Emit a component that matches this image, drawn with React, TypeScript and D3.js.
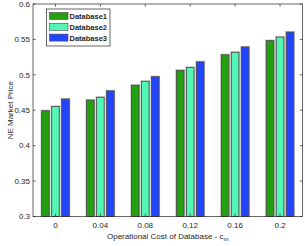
import React from "react";
import * as d3 from "d3";

const categories = ["0", "0.04", "0.08", "0.12", "0.16", "0.2"];
const seriesNames = ["Database1", "Database2", "Database3"];
const database1 = [0.45, 0.465, 0.486, 0.507, 0.529, 0.549];
const database2 = [0.456, 0.469, 0.4915, 0.511, 0.5325, 0.554];
const database3 = [0.4665, 0.478, 0.498, 0.519, 0.54, 0.561];
const yTicks = [0.3, 0.35, 0.4, 0.45, 0.5, 0.55, 0.6];
const colors = ["#22a010", "#52f7b6", "#2246ff"];

const W = 305, H = 246;
const m = { left: 33, right: 302.5, top: 4, bottom: 216.5 };
const font = "'Liberation Sans', Arial, sans-serif";

export default function App() {
  const series = [database1, database2, database3];
  const x = d3.scaleLinear().domain([-0.5, categories.length - 0.5]).range([m.left, m.right]);
  const y = d3.scaleLinear().domain([0.3, 0.6]).range([m.bottom, m.top]);
  const offset = 0.223;
  const bw = 0.19;
  const bwPx = x(bw) - x(0);
  return (
    <svg width={W} height={H} style={{ position: "absolute", left: 0, top: 0 }} fontFamily={font}>
      <rect width={W} height={H} fill="#fff" />
      {series.map((vals, s) =>
        vals.map((v, i) => {
          const cx = x(i + (s - 1) * offset);
          return (
            <g key={`${s}-${i}`}>
              <rect x={cx - bwPx / 2 - 0.5} y={y(v) - 0.5} width={bwPx + 1} height={y(0.3) - y(v) + 0.5} fill="#b4b4b4" />
              <rect x={cx - bwPx / 2 + 0.5} y={y(v) + 0.5} width={bwPx - 1} height={y(0.3) - y(v) - 0.5} fill={colors[s]} stroke="#4a4a4a" strokeWidth={0.8} />
            </g>
          );
        })
      )}
      {/* axes box */}
      <rect x={m.left} y={m.top} width={m.right - m.left} height={m.bottom - m.top} fill="none" stroke="#262626" strokeWidth={0.7} />
      {yTicks.map((t) => (
        <g key={t}>
          <line x1={m.left} x2={m.left + 2.7} y1={y(t)} y2={y(t)} stroke="#262626" strokeWidth={0.7} />
          <line x1={m.right} x2={m.right - 2.7} y1={y(t)} y2={y(t)} stroke="#262626" strokeWidth={0.7} />
          <text x={m.left - 3} y={y(t) + 2.8} fontSize={8} textAnchor="end" fill="#262626">{String(t)}</text>
        </g>
      ))}
      {categories.map((c, i) => (
        <g key={c}>
          <line x1={x(i)} x2={x(i)} y1={m.bottom} y2={m.bottom - 2.7} stroke="#262626" strokeWidth={0.7} />
          <line x1={x(i)} x2={x(i)} y1={m.top} y2={m.top + 2.7} stroke="#262626" strokeWidth={0.7} />
          <text x={x(i)} y={m.bottom + 11} fontSize={8} textAnchor="middle" fill="#262626">{c}</text>
        </g>
      ))}
      <text x={0} y={0} transform={`translate(12.5,${(m.top + m.bottom) / 2}) rotate(-90)`} fontSize={8} textAnchor="middle" fill="#262626">NE Market Price</text>
      <text x={(m.left + m.right) / 2} y={238.5} fontSize={8} textAnchor="middle" fill="#262626">
        Operational Cost of Database - c<tspan fontSize={6} dy={2.5}>m</tspan>
      </text>
      {/* legend */}
      <rect x={46.5} y={9} width={63.5} height={37} fill="#fff" stroke="#262626" strokeWidth={0.7} />
      {seriesNames.map((n, s) => (
        <g key={n}>
          <rect x={49.5} y={12.5 + s * 10.8} width={18.5} height={7} fill={colors[s]} stroke="#4a4a4a" strokeWidth={0.6} />
          <text x={69.5} y={19 + s * 10.8} fontSize={7.5} fontWeight="bold" fill="#262626">{n}</text>
        </g>
      ))}
    </svg>
  );
}
